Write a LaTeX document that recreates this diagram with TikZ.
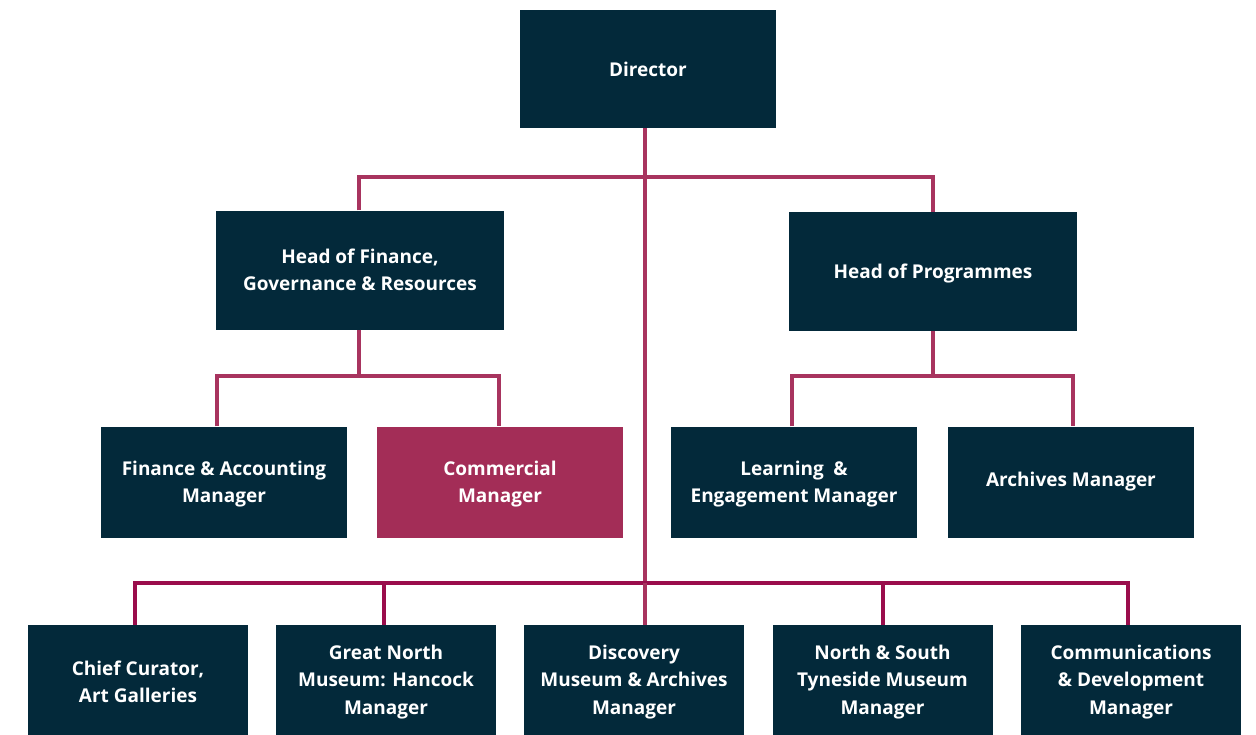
\documentclass[tikz,border=0pt]{standalone}
\usepackage{fontspec}
\setmainfont{Open Sans}
% last line without descender depth, so the caps sit on the optical centre
\newcommand\nodepth[1]{\raisebox{0pt}[\height][0pt]{#1}}
\begin{document}
\definecolor{navy}{HTML}{03293A}
\definecolor{berry}{HTML}{A32D57}
\definecolor{linkup}{HTML}{A8345F}
\definecolor{linkdown}{HTML}{9A0D4C}
\begin{tikzpicture}[x=1pt,y=-1pt,
  role/.style={fill=navy,draw=none,text=white,font=\bfseries\fontsize{19}{27.5}\selectfont,
    align=center,inner sep=0pt,minimum width=#1},
  role/.default=246,
  top/.style={role=288,minimum height=119},
  mid/.style={role=246,minimum height=111},
  low/.style={role=220,minimum height=114},
  link/.style={draw=linkup,line width=4pt},
  linkb/.style={draw=linkdown,line width=4pt}]
\useasboundingbox (0,0) rectangle (1256,734);
% reporting lines
\coordinate (trunk) at (645,177);
\coordinate (bar) at (645,583);
\coordinate (finbar) at (359,376);
\coordinate (progbar) at (933,376);
% boxes
\node[role=256,minimum height=118] (dir) at (648,69) {Director};
\node[top] (hof) at (360,270) {Head of Finance,\\Governance \& Resources};
\node[top] (hop) at (933,271.5) {\nodepth{Head of Programmes}};
\node[mid] (fam) at (224,482) {Finance \& Accounting\\\nodepth{Manager}};
\node[mid,fill=berry] (com) at (500,482) {Commercial\\\nodepth{Manager}};
\node[mid] (lem) at (794,482) {Learning\enspace\&\\\nodepth{Engagement Manager}};
\node[mid] (arc) at (1071,482) {Archives Manager};
\node[low] (cur) at (138,682) {Chief Curator,\\Art Galleries};
\node[low] (gnm) at (386,682) {Great North\\Museum: Hancock\\Manager};
\node[low] (dma) at (634,682) {Discovery\\Museum \& Archives\\Manager};
\node[low] (nst) at (882.5,682) {North \& South\\Tyneside Museum\\Manager};
\node[low] (cdm) at (1131,682) {Communications\\\& Development\\Manager};
% connectors
\draw[link] (dir.south -| trunk) -- (bar);
\draw[link] (hof.north -| finbar) -- (finbar |- trunk) -- (hop.north |- trunk) -- (hop.north);
\draw[link] (hof.south -| finbar) -- (finbar);
\draw[link] ([xshift=-7pt]fam.north) -- ([xshift=-7pt]fam.north |- finbar) -- ([xshift=-1pt]com.north |- finbar) -- ([xshift=-1pt]com.north);
\draw[link] (hop.south) -- (progbar);
\draw[link] ([xshift=-2pt]lem.north) -- ([xshift=-2pt]lem.north |- progbar) -- ([xshift=2pt]arc.north |- progbar) -- ([xshift=2pt]arc.north);
\draw[linkb] ([xshift=-3pt]cur.north) -- ([xshift=-3pt]cur.north |- bar) -- ([xshift=-3pt]cdm.north |- bar) -- ([xshift=-3pt]cdm.north);
\draw[linkb] ([xshift=-2pt]gnm.north) -- ([xshift=-2pt]gnm.north |- bar);
\draw[linkb] (nst.north) -- (nst.north |- bar);
\draw[link] (bar) -- (bar |- dma.north);
\end{tikzpicture}
\end{document}
